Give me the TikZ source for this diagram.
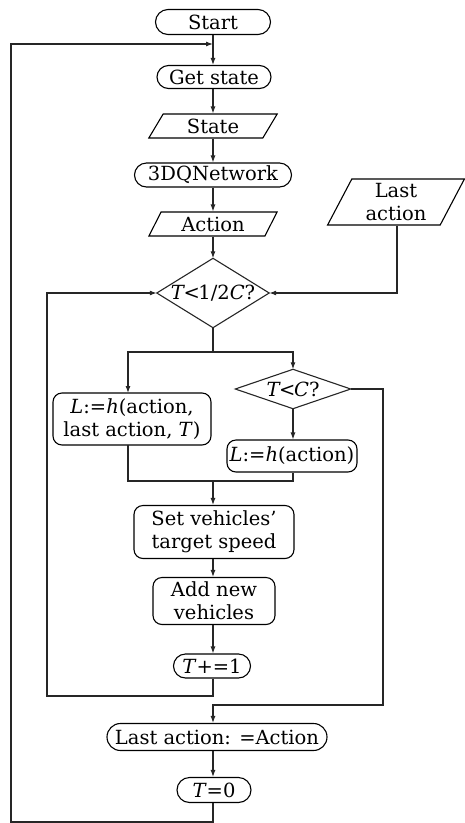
\documentclass[tikz,border=0pt]{standalone}
\usepackage{fontspec}
\setmainfont{DejaVu Serif}
\usetikzlibrary{shapes.geometric,shapes.misc,arrows.meta}
\newcommand{\lt}{\kern-1.5pt<\kern-1.5pt}
\begin{document}
\begin{tikzpicture}[x=1pt,y=-1pt,
  every node/.style={font=\fontsize{19.5}{23}\selectfont, text=black, inner sep=0pt},
  term/.style={draw, rounded rectangle, line width=1.1pt},
  proc/.style={draw, rounded corners=9pt, line width=1.1pt, align=center},
  io/.style={draw, trapezium, trapezium left angle=63, trapezium right angle=117, trapezium stretches=true, line width=1.1pt, align=center},
  dec/.style={rectangle},
  line/.style={line width=1.1pt, draw=black!85},
  arr/.style={line, -{Latex[length=7pt,width=5pt]}}
]
\useasboundingbox (0,0) rectangle (465,823);
\node[term, minimum width=115, minimum height=25] (start) at (213,22) {Start};
\node[term, minimum width=114, minimum height=23] (get) at (214,77) {Get state};
\node[io, minimum width=129, minimum height=24] (state) at (213,126) {State};
\node[term, minimum width=157, minimum height=24] (net) at (213,175) {3DQNetwork};
\node[io, minimum width=129, minimum height=24] (action) at (213,224) {Action};
\node[io, minimum width=137, minimum height=46, trapezium left angle=66, trapezium right angle=114] (last) at (396,202) {Last\\action};
\node[dec, minimum width=112, minimum height=69] (d1) at (213,293) {\textit{T}\lt1/2\textit{C}?};
\draw[line] (d1.north) -- (d1.east) -- (d1.south) -- (d1.west) -- cycle;
\node[dec, minimum width=115, minimum height=39] (d2) at (293,389) {\textit{T}\lt\textit{C}?};
\draw[line] (d2.north) -- (d2.east) -- (d2.south) -- (d2.west) -- cycle;
\node[proc, minimum width=158, minimum height=52] (l1) at (132,419) {\textit{L}:=\textit{h}(action,\\last action, \textit{T})};
\node[proc, minimum width=130, minimum height=32] (l2) at (292,456) {\textit{L}:=\textit{h}(action)};
\node[proc, minimum width=160, minimum height=53] (set) at (214,532) {Set vehicles’\\target speed};
\node[proc, minimum width=122, minimum height=47] (add) at (214,601) {Add new\\vehicles};
\node[term, minimum width=77, minimum height=24] (tinc) at (212,666) {\textit{T}+=1};
\node[term, minimum width=220, minimum height=27] (la) at (217,737) {Last action: =Action};
\node[term, minimum width=74, minimum height=25] (t0) at (214,790) {\textit{T}=0};

\coordinate (top) at (213,44);
\coordinate (split) at (213,352);
\coordinate (merge) at (213,481);

\draw[arr] (start.south -| top) -- (get.north -| top);
\draw[arr] (get.south -| top) -- (state.north -| top);
\draw[arr] (state.south -| top) -- (net.north -| top);
\draw[arr] (net.south -| top) -- (action.north -| top);
\draw[arr] (action.south -| top) -- (d1.north);
\draw[arr] (last.south -| 397,0) -- (397,293) -- (d1.east);
\draw[line] (d1.south) -- (split);
\draw[arr] (split) -- (128,352) -- (128,393);
\draw[arr] (split) -- (293,352) -- (d2.north);
\draw[arr] (d2.south) -- (l2.north -| d2.south);
\draw[line] (128,445) -- (128,481) -- (293,481) -- (l2.south -| 293,0);
\draw[arr] (merge) -- (set.north -| merge);
\draw[arr] (set.south -| merge) -- (add.north -| merge);
\draw[arr] (add.south -| merge) -- (tinc.north -| merge);
\draw[arr] (tinc.south -| merge) -- (213,696) -- (47,696) -- (47,293) -- (d1.west);
\draw[arr] (d2.east) -- (383,389) -- (383,705) -- (213,705) -- (la.north -| merge);
\draw[arr] (la.south -| merge) -- (t0.north -| merge);
\draw[arr] (t0.south -| merge) -- (213,822) -- (11,822) -- (11,44) -- (top);
\end{tikzpicture}
\end{document}
